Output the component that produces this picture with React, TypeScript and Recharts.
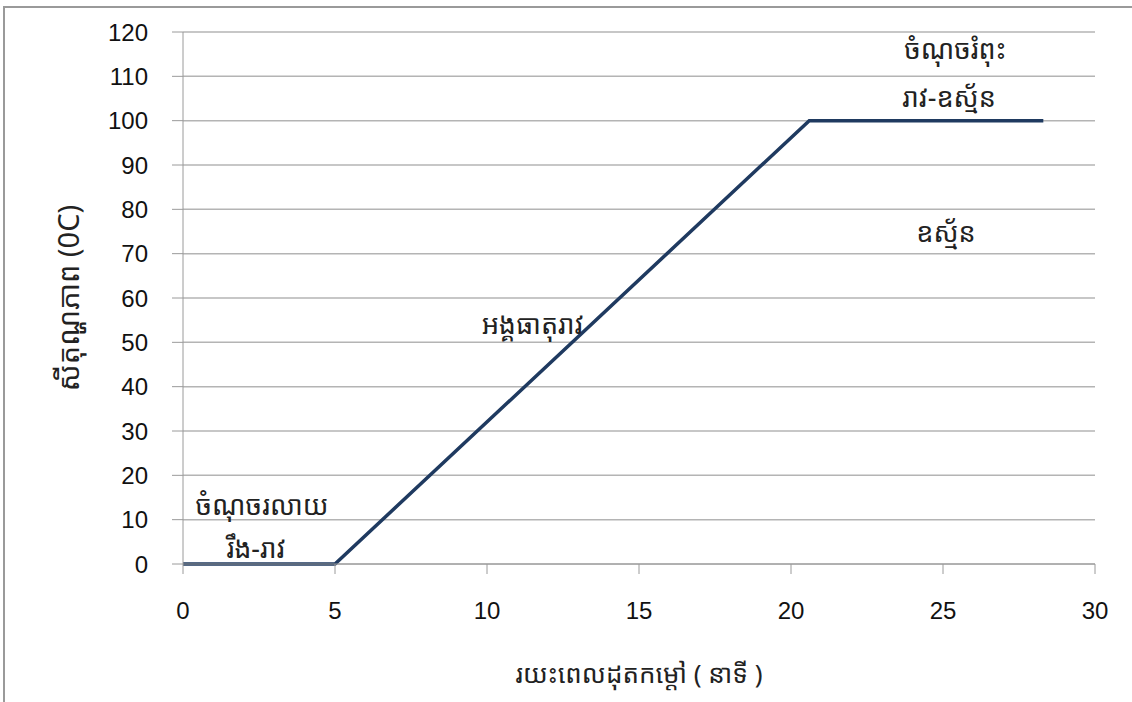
import React from 'react';
import { LineChart, Line, XAxis, YAxis, CartesianGrid, ReferenceDot, Label } from 'recharts';

// heating curve of water: time (minutes) vs temperature (°C)
const timeMin = [0, 5, 20.6, 28.3];
const tempC = [0, 0, 100, 100];

const xTicks = [0, 5, 10, 15, 20, 25, 30];
const yTicks = [0, 10, 20, 30, 40, 50, 60, 70, 80, 90, 100, 110, 120];

const xTitle = 'រយះពេលដុតកម្តៅ ( នាទី )';
const yTitle = 'សីតុណ្ហភាព (0C)';

// phase annotations, placed in data units
const noteText = ['ចំណុចរលាយ', 'រឹង-រាវ', 'អង្គធាតុរាវ', 'ចំណុចរំពុះ', 'រាវ-ឧស្ម័ន', 'ឧស្ម័ន'];
const noteX = [2.6, 2.4, 11.5, 25.4, 25.2, 25.1];
const noteY = [13.3, 3.6, 54, 116, 105.3, 74.7];

const data = timeMin.map((t, i) => ({ t, temp: tempC[i] }));

const FONT = '"Liberation Sans", Arial, Helvetica, sans-serif';
const KH_FONT = '"Khmer OS", "Noto Sans Khmer", "Noto Sans", "DejaVu Sans", sans-serif';

const App: React.FC = () => {
  return (
    <div style={{ position: 'absolute', left: 0, top: 0, width: 1132, height: 702, overflow: 'hidden', background: '#fff' }}>
      <div
        style={{
          position: 'absolute',
          left: 3,
          top: 6,
          width: 1200,
          height: 800,
          border: '2px solid #9a9a9a',
        }}
      />
      <div style={{ position: 'absolute', left: 0, top: 0 }}>
        <LineChart width={1132} height={702} data={data} margin={{ top: 32, right: 37, bottom: 0, left: 0 }}>
          <CartesianGrid vertical={false} stroke="#b4b4b4" strokeWidth={1.5} />
          <XAxis
            dataKey="t"
            type="number"
            domain={[0, 30]}
            ticks={xTicks}
            height={138}
            stroke="#9a9a9a"
            tickSize={10}
            tickMargin={28}
            tick={{ fill: '#111', fontSize: 24, fontFamily: FONT }}
          >
            <Label
              content={({ viewBox }: any) => (
                <text
                  x={viewBox.x + viewBox.width / 2}
                  y={viewBox.y + 109}
                  textAnchor="middle"
                  dominantBaseline="central"
                  fontSize={26}
                  fontFamily={KH_FONT}
                  fill="#222"
                >
                  {xTitle}
                </text>
              )}
            />
          </XAxis>
          <YAxis
            type="number"
            domain={[0, 120]}
            ticks={yTicks}
            width={183}
            stroke="#9a9a9a"
            tickSize={11}
            tickMargin={24}
            tick={{ fill: '#111', fontSize: 24, fontFamily: FONT }}
          >
            <Label
              content={({ viewBox }: any) => {
                const cx = viewBox.x + 67;
                const cy = viewBox.y + viewBox.height / 2;
                return (
                  <text
                    x={cx}
                    y={cy}
                    transform={`rotate(-90 ${cx} ${cy})`}
                    textAnchor="middle"
                    dominantBaseline="central"
                    fontSize={29}
                    fontFamily={KH_FONT}
                    fill="#222"
                  >
                    {yTitle}
                  </text>
                );
              }}
            />
          </YAxis>
          <Line
            type="linear"
            dataKey="temp"
            stroke="#1f3a60"
            strokeWidth={3.5}
            dot={false}
            isAnimationActive={false}
          />
          {noteText.map((txt, i) => (
            <ReferenceDot
              key={txt}
              x={noteX[i]}
              y={noteY[i]}
              r={0}
              fill="none"
              stroke="none"
              label={{ value: txt, position: 'center', fontSize: 27, fontFamily: KH_FONT, fill: '#222' }}
            />
          ))}
        </LineChart>
      </div>
    </div>
  );
};

export default App;
